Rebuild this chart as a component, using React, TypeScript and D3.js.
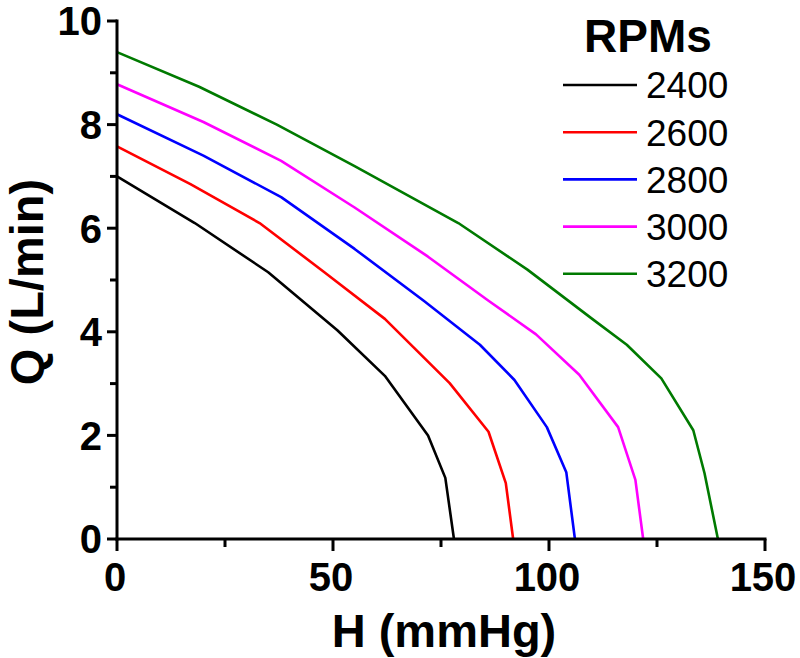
import React from "react";
import * as d3 from "d3";

const rpms = ["2400", "2600", "2800", "3000", "3200"];
const colors = ["#000000", "#ff0000", "#0000ff", "#ff00ff", "#007a00"];

const h2400 = [0, 18, 35, 51, 62, 72, 76, 78];
const q2400 = [7.0, 6.1, 5.15, 4.03, 3.15, 2.0, 1.18, 0];
const h2600 = [0, 17, 33, 48, 62, 77, 86, 90, 91.7];
const q2600 = [7.58, 6.85, 6.1, 5.15, 4.25, 3.01, 2.07, 1.08, 0];
const h2800 = [0, 20, 38, 55, 71, 84, 92, 99.5, 104, 106];
const q2800 = [8.2, 7.4, 6.6, 5.6, 4.6, 3.75, 3.07, 2.16, 1.29, 0];
const h3000 = [0, 20, 38, 55, 72, 86, 97, 107, 116, 120, 121.8];
const q3000 = [8.78, 8.05, 7.3, 6.4, 5.45, 4.6, 3.95, 3.17, 2.16, 1.14, 0];
const h3200 = [0, 19, 37, 55, 79, 95, 110, 118, 126, 133.4, 136, 139.1];
const q3200 = [9.4, 8.73, 8.0, 7.2, 6.1, 5.2, 4.25, 3.75, 3.1, 2.1, 1.27, 0];

const seriesH = [h2400, h2600, h2800, h3000, h3200];
const seriesQ = [q2400, q2600, q2800, q3000, q3200];

const xMajor = [0, 50, 100, 150];
const xMinor = [25, 75, 125];
const yMajor = [0, 2, 4, 6, 8, 10];
const yMinor = [1, 3, 5, 7, 9];

const FONT = "'Liberation Sans', Arial, sans-serif";

export default function App() {
  const W = 800, H = 658;
  const x = d3.scaleLinear().domain([0, 150]).range([117, 765]);
  const y = d3.scaleLinear().domain([0, 10]).range([539, 21]);
  const line = d3
    .line<[number, number]>()
    .x((d) => x(d[0]))
    .y((d) => y(d[1]));

  const sw = 3;
  return (
    <svg width={W} height={H} style={{ position: "absolute", left: 0, top: 0, background: "#fff" }}>
      <rect width={W} height={H} fill="#fff" />
      {seriesH.map((hs, i) => (
        <path
          key={i}
          d={line(hs.map((h, j) => [h, seriesQ[i][j]] as [number, number])) || ""}
          fill="none"
          stroke={colors[i]}
          strokeWidth={2.6}
          strokeLinejoin="round"
        />
      ))}
      {/* axes */}
      <line x1={x(0)} x2={x(150)} y1={y(0)} y2={y(0)} stroke="#000" strokeWidth={sw} strokeLinecap="square" />
      <line x1={x(0)} x2={x(0)} y1={y(0)} y2={y(10)} stroke="#000" strokeWidth={sw} strokeLinecap="square" />
      {xMajor.map((v) => (
        <g key={"xm" + v}>
          <line x1={x(v)} x2={x(v)} y1={y(0)} y2={y(0) + 12} stroke="#000" strokeWidth={sw} />
          <text x={x(v) - 2} y={591} textAnchor="middle" fontFamily={FONT} fontWeight="bold" fontSize={40}>
            {v}
          </text>
        </g>
      ))}
      {xMinor.map((v) => (
        <line key={"xn" + v} x1={x(v)} x2={x(v)} y1={y(0)} y2={y(0) + 8} stroke="#000" strokeWidth={sw} />
      ))}
      {yMajor.map((v) => (
        <g key={"ym" + v}>
          <line x1={x(0) - 10} x2={x(0)} y1={y(v)} y2={y(v)} stroke="#000" strokeWidth={sw} />
          <text x={102} y={y(v)} dy="0.36em" textAnchor="end" fontFamily={FONT} fontWeight="bold" fontSize={40}>
            {v}
          </text>
        </g>
      ))}
      {yMinor.map((v) => (
        <line key={"yn" + v} x1={x(0) - 7} x2={x(0)} y1={y(v)} y2={y(v)} stroke="#000" strokeWidth={sw} />
      ))}
      <text x={444} y={647} textAnchor="middle" fontFamily={FONT} fontWeight="bold" fontSize={47}>
        H (mmHg)
      </text>
      <text
        transform={`translate(43,282) rotate(-90)`}
        textAnchor="middle"
        fontFamily={FONT}
        fontWeight="bold"
        fontSize={47}
      >
        Q (L/min)
      </text>
      {/* legend */}
      <text x={648} y={52} textAnchor="middle" fontFamily={FONT} fontWeight="bold" fontSize={46}>
        RPMs
      </text>
      {rpms.map((r, i) => {
        const ly = 85 + i * 47.2;
        return (
          <g key={r}>
            <line x1={563} x2={637} y1={ly} y2={ly} stroke={colors[i]} strokeWidth={2.6} />
            <text x={646} y={ly} dy="0.36em" fontFamily={FONT} fontSize={37}>
              {r}
            </text>
          </g>
        );
      })}
    </svg>
  );
}
